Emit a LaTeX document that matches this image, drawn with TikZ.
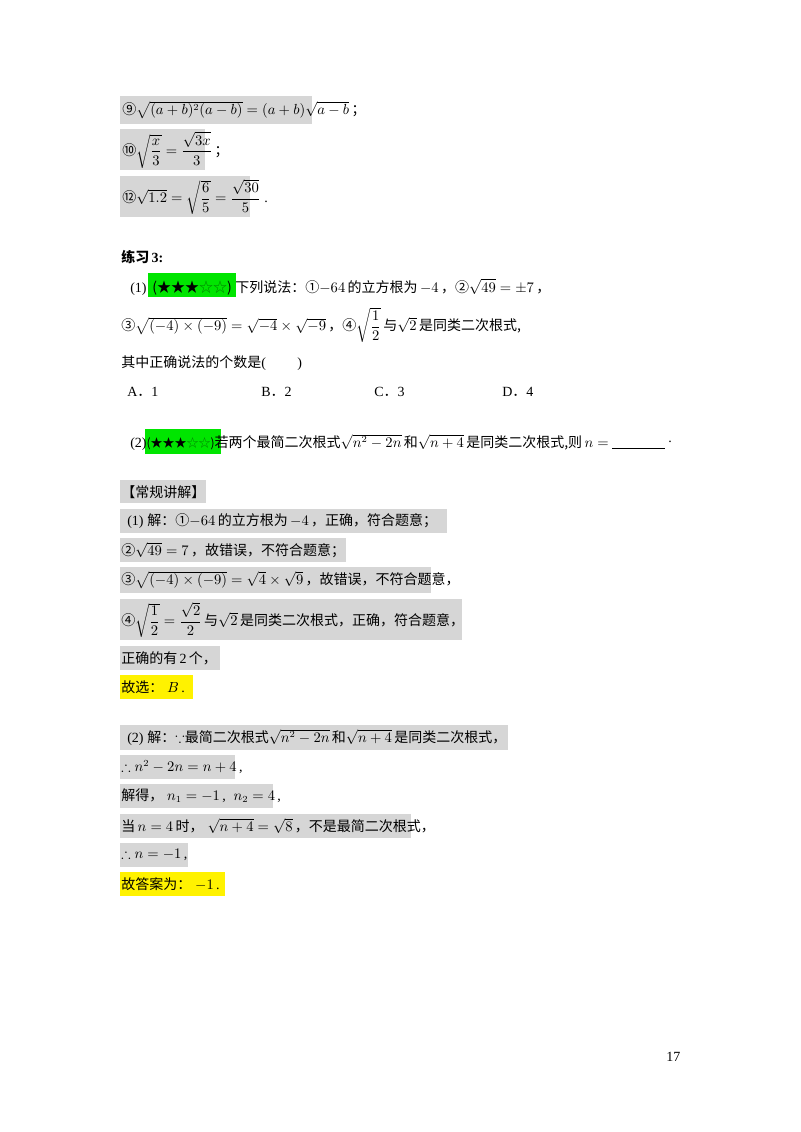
\documentclass[tikz,border=0pt]{standalone}
\usepackage{fontspec}
\usepackage{amsmath,amssymb}
\setmainfont{Liberation Serif}
\newfontfamily\cjk{Noto Sans CJK SC}
\begin{document}
\begin{tikzpicture}[x=0.75pt,y=-0.75pt,
  txt/.style={anchor=west,inner sep=0pt,font=\fontsize{10.5}{12}\selectfont},
  gbox/.style={fill=black!16,draw=none},
  ybox/.style={fill=yellow,draw=none},
  grbox/.style={fill=green!90!black,draw=none}]
\useasboundingbox (0,0) rectangle (800,1132);
\fill[white] (0,0) rectangle (800,1132);
% top boxes
\fill[gbox] (120,96) rectangle (312,124);
\fill[gbox] (120,129) rectangle (205,170);
\fill[gbox] (120,176) rectangle (250,217);
\node[txt] (t9) at (122,110) {{\cjk ⑨}$\sqrt{(a+b)^2(a-b)}=(a+b)\sqrt{a-b}$\,{\cjk ；}};
\node[txt] (t10) at (122,150) {{\cjk ⑩}$\sqrt{\dfrac{x}{3}}=\dfrac{\sqrt{3x}}{3}$\,{\cjk ；}};
\node[txt] (t12) at (122,197) {{\cjk ⑫}$\sqrt{1.2}=\sqrt{\dfrac{6}{5}}=\dfrac{\sqrt{30}}{5}$\;.};
\node[txt] (lx) at (121,257) {\cjk\bfseries 练习\,\textrm{3:}};
% question 1
\fill[grbox] (148,273) rectangle (236,297);
\node[txt] (q1) at (130,287) {(1)\, {\cjk (★★★\textcolor{green!50!black}{☆☆})} {\cjk 下列说法：①}$-64$\,{\cjk 的立方根为}$\,-4$\,{\cjk ，②}$\sqrt{49}=\pm7$\,{\cjk ，}};
\node[txt] (q1b) at (121,325) {{\cjk ③}$\sqrt{(-4)\times(-9)}=\sqrt{-4}\times\sqrt{-9}$\,{\cjk ，④}$\sqrt{\dfrac12}$\,{\cjk 与}$\sqrt2$\,{\cjk 是同类二次根式,}};
\node[txt] (q1c) at (121,363) {{\cjk 其中正确说法的个数是}(\qquad\ )};
\node[txt] (oa) at (127,392) {A{\cjk ．}1};
\node[txt] (ob) at (261,392) {B{\cjk ．}2};
\node[txt] (oc) at (374,392) {C{\cjk ．}3};
\node[txt] (od) at (502,392) {D{\cjk ．}4};
% question 2
\fill[grbox] (145,429) rectangle (221,454);
\node[txt] (q2) at (130,442) {(2){\cjk\small (★★★\textcolor{green!50!black}{☆☆})}{\cjk 若两个最简二次根式}$\sqrt{n^2-2n}$\,{\cjk 和}$\sqrt{n+4}$\,{\cjk 是同类二次根式,则}$\,n=$};
\coordinate (u1) at ([shift={(3,6)}]q2.east);
\coordinate (u2) at (665,448);
\draw[line width=0.5pt] (u1) -- (u2);
\node[txt] (dot) at (668,442) {.};
% solution
\fill[gbox] (120,480) rectangle (206,503);
\node[txt] (h) at (121,492) {\cjk 【常规讲解】};
\fill[gbox] (120,509) rectangle (447,533);
\node[txt] (s1) at (127,521) {(1)\;{\cjk 解：①}$-64$\,{\cjk 的立方根为}$\,-4$\,{\cjk ，正确，符合题意；}};
\fill[gbox] (120,538) rectangle (346,562);
\node[txt] (s2) at (121,550) {{\cjk ②}$\sqrt{49}=7$\,{\cjk ，故错误，不符合题意；}};
\fill[gbox] (120,567) rectangle (431,593);
\node[txt] (s3) at (121,580) {{\cjk ③}$\sqrt{(-4)\times(-9)}=\sqrt4\times\sqrt9$\,{\cjk ，故错误，不符合题意，}};
\fill[gbox] (120,599) rectangle (462,640);
\node[txt] (s4) at (121,620) {{\cjk ④}$\sqrt{\dfrac12}=\dfrac{\sqrt2}{2}$\,{\cjk 与}$\sqrt2$\,{\cjk 是同类二次根式，正确，符合题意，}};
\fill[gbox] (120,646) rectangle (220,670);
\node[txt] (s5) at (121,658) {{\cjk 正确的有}\,2\,{\cjk 个，}};
\fill[ybox] (120,675) rectangle (193,699);
\node[txt] (s6) at (121,687) {{\cjk 故选：}\;$B$\,.};
\fill[gbox] (120,725) rectangle (508,750);
\node[txt] (r1) at (127,737) {(2)\;{\cjk 解：}$\because${\cjk 最简二次根式}$\sqrt{n^2-2n}$\,{\cjk 和}$\sqrt{n+4}$\,{\cjk 是同类二次根式，}};
\fill[gbox] (120,755) rectangle (235,779);
\node[txt] (r2) at (121,767) {$\therefore n^2-2n=n+4$\,,};
\fill[gbox] (120,784) rectangle (273,808);
\node[txt] (r3) at (121,796) {{\cjk 解得，}\;$n_1=-1$\,,\;\;$n_2=4$\,,};
\fill[gbox] (120,814) rectangle (411,838);
\node[txt] (r4) at (121,826) {{\cjk 当}$\,n=4\,${\cjk 时，}\;$\sqrt{n+4}=\sqrt8$\,{\cjk ，不是最简二次根式，}};
\fill[gbox] (120,843) rectangle (188,867);
\node[txt] (r5) at (121,855) {$\therefore n=-1$\,,};
\fill[ybox] (120,872) rectangle (225,896);
\node[txt] (r6) at (121,884) {{\cjk 故答案为：}\;$-1$\,.};
\node[txt] (pg) at (666,1057) {17};
\end{tikzpicture}
\end{document}
